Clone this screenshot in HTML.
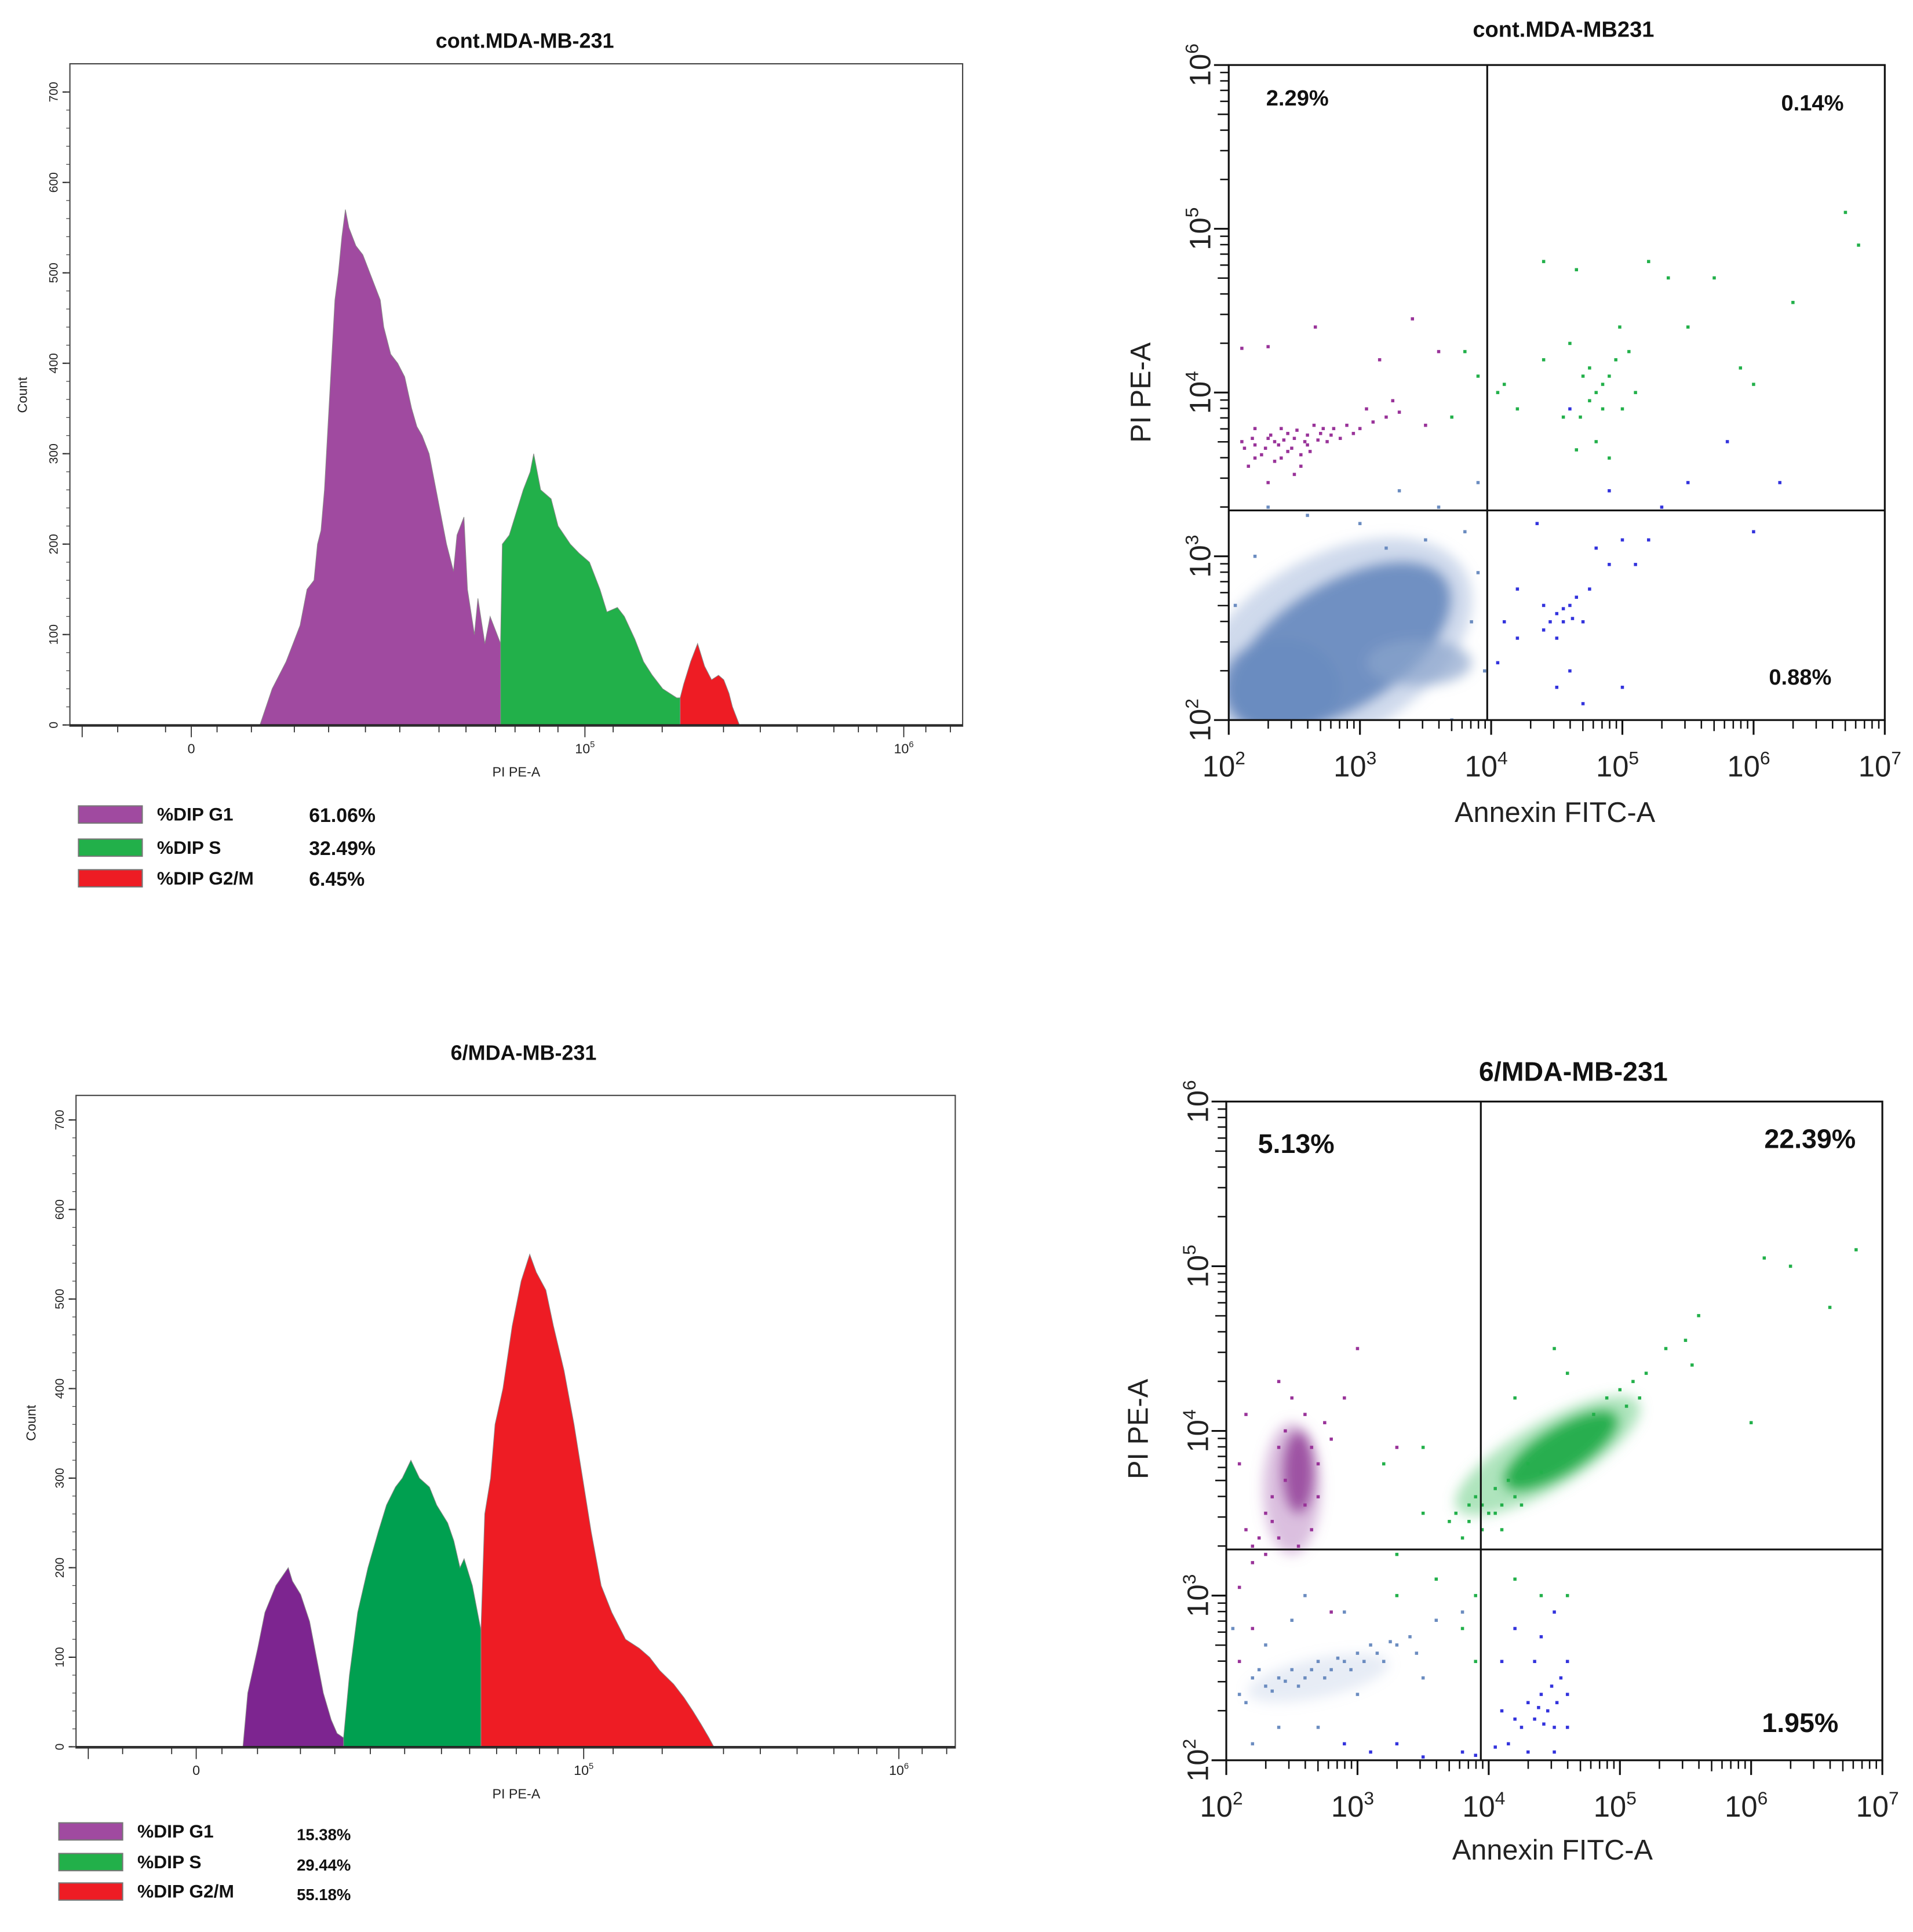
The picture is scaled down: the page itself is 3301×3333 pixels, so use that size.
<!DOCTYPE html>
<html><head><meta charset="utf-8"><style>
html,body{margin:0;padding:0;background:#fff}
svg{display:block}
text{font-family:"Liberation Sans",sans-serif}
.b{font-weight:bold}
</style></head><body>
<svg id="fig" width="3301" height="3333" viewBox="0 0 1560 1575" preserveAspectRatio="none" xmlns="http://www.w3.org/2000/svg">
<defs><filter id="soft" x="-30%" y="-30%" width="160%" height="160%"><feGaussianBlur stdDeviation="5"/></filter></defs>
</svg>
<script>
// ---------- Histogram data (channel 0..256 across box, count) ----------
const topChan = [54.5,58,62,64,66,68,70,71,72,73,74,75,76,77,78,79,80,81,82,84,85,87,89,90,92,94,96,98,99.5,101,103,105,106.5,108,110,111,113,114,116,117,119,120.5,123,123.5];
const topCount= [0,40,70,90,110,150,160,200,215,260,330,400,470,500,540,570,550,540,530,520,510,490,470,440,410,400,385,350,330,320,300,260,230,200,170,210,230,150,100,140,90,120,95,90];
const topSChan = [123.5,124,126,128,130,132,133,135,138,140,143.5,146,149,152,154,157,159,162,164.5,167,170,172,174,175];
const topSCount= [90,200,210,235,260,280,300,260,250,220,200,190,180,150,125,130,120,95,70,55,40,35,30,30];
const topMChan = [175,176,178,180,182,184,186,187.5,189,190,191,192];
const topMCount= [30,45,70,90,65,50,55,50,35,20,10,0];

const botGChan = [48.6,50,52.9,55,58.2,60,61.8,63,65.4,68,70,72,74.3,76,77.9];
const botGCount= [0,60,110,150,180,190,200,185,170,140,100,60,30,15,10];
const botSChan = [77.9,79.6,82,85,88,90.4,93,95,97.5,100,102.9,105,108.2,110,111.8,113,115.4,117.9];
const botSCount= [10,80,150,200,240,270,290,300,320,300,290,270,250,230,200,210,180,130];
const botMChan = [117.9,119,120.7,122,124.3,127,129.6,132.1,134,136.8,139,142.1,145,147.5,150,152.9,156,160,164,167,170,174,177,179.6,182,184.3,185.7];
const botMCount= [130,260,300,360,400,470,520,550,530,510,470,420,360,300,240,180,150,120,110,100,85,70,55,40,25,10,0];

const yTicks = [0,100,200,300,400,500,600,700];

// ---------- Scatter data (log10 units) ----------
const topBlobs = [ // [cx, cy, rxDec, ryDec, angleDeg, color, opacity]
 [2.8,2.45,1.15,0.55,-30,'#a7bcdc',0.55],
 [2.85,2.45,0.95,0.38,-32,'#6b8cc0',0.95],
 [2.4,2.2,0.45,0.3,0,'#6b8cc0',0.9],
 [3.45,2.35,0.4,0.14,0,'#8aa4cc',0.7]
];
const topPurple=[[2.1,3.7],[2.2,3.68],[2.3,3.72],[2.35,3.7],[2.45,3.75],[2.5,3.72],[2.6,3.74],[2.7,3.75],[2.75,3.7],[2.8,3.78],[2.9,3.8],[3.0,3.78],[3.1,3.82],[3.2,3.85],[3.3,3.88],[2.25,3.62],[2.4,3.6],[2.55,3.55],[2.2,3.78],[2.65,3.8],[3.05,3.9],[3.15,4.2],[2.1,4.27],[2.3,4.28],[2.66,4.4],[3.4,4.45],[3.6,4.25],[3.5,3.8],[2.5,3.5],[2.3,3.45],[2.15,3.55],[2.6,3.68],[2.85,3.72],[3.25,3.95],[2.12,3.66],[2.18,3.72],[2.28,3.66],[2.32,3.74],[2.38,3.68],[2.42,3.71],[2.48,3.66],[2.52,3.77],[2.58,3.7],[2.62,3.64],[2.68,3.71],[2.72,3.78],[2.78,3.74],[2.2,3.6],[2.35,3.58],[2.45,3.64],[2.55,3.62],[2.4,3.78],[2.95,3.75]];
const topGreen=[[4.05,4.0],[4.1,4.05],[4.2,3.9],[4.4,4.2],[4.55,3.85],[4.6,4.3],[4.7,4.1],[4.75,3.95],[4.8,3.7],[4.85,4.05],[4.9,4.1],[4.95,4.2],[5.0,3.9],[5.05,4.25],[5.1,4.0],[4.9,3.6],[4.65,3.65],[4.98,4.4],[5.2,4.8],[5.35,4.7],[4.4,4.8],[4.65,4.75],[5.7,4.7],[6.3,4.55],[6.8,4.9],[5.9,4.15],[6.0,4.05],[3.9,4.1],[3.8,4.25],[3.7,3.85],[5.5,4.4],[6.7,5.1],[4.8,4.0],[4.85,3.9],[4.75,4.15],[4.68,3.85]];
const topBlue=[[4.2,2.8],[4.4,2.7],[4.5,2.65],[4.55,2.6],[4.6,2.7],[4.65,2.75],[4.7,2.6],[4.75,2.8],[4.4,2.55],[4.5,2.5],[4.9,2.95],[5.0,3.1],[5.1,2.95],[5.2,3.1],[4.2,2.5],[4.5,2.2],[4.6,2.3],[5.0,2.2],[4.7,2.1],[4.1,2.6],[4.35,3.2],[4.8,3.05],[5.3,3.3],[5.5,3.45],[5.8,3.7],[6.2,3.45],[6.0,3.15],[4.9,3.4],[4.6,3.9],[4.05,2.35],[4.45,2.6],[4.55,2.68],[4.62,2.62]];
const topLight=[[2.3,3.3],[2.6,3.25],[3.0,3.2],[3.3,3.4],[3.6,3.3],[3.8,3.15],[3.9,2.9],[3.85,2.6],[3.95,2.3],[3.7,2.0],[3.2,3.05],[2.2,3.0],[2.05,2.7],[3.5,3.1],[3.9,3.45]];

const botBlobs = [
 [4.45,3.85,0.8,0.2,-30,'#5ec97a',0.5],
 [4.55,3.88,0.5,0.14,-32,'#17a844',0.9],
 [2.5,3.65,0.22,0.4,0,'#b070b8',0.45],
 [2.55,3.75,0.12,0.25,0,'#8f3a95',0.8],
 [2.7,2.5,0.55,0.12,-12,'#9fb4d8',0.25]
];
const botPurple=[[2.15,3.4],[2.2,3.3],[2.3,3.5],[2.35,3.6],[2.4,3.9],[2.45,4.0],[2.6,3.55],[2.65,3.4],[2.7,3.8],[2.75,4.05],[2.8,3.95],[2.2,3.2],[2.1,3.05],[2.3,3.25],[2.5,4.2],[2.6,4.1],[2.15,4.1],[2.4,4.3],[2.1,3.8],[2.9,4.2],[3.3,3.9],[3.0,4.5],[2.8,2.9],[2.2,2.8],[2.1,2.6],[2.25,3.35],[2.35,3.45],[2.45,3.7],[2.65,3.9],[2.7,3.6],[2.4,3.35],[2.55,3.3]];
const botGreen=[[3.3,3.25],[3.5,3.5],[3.7,3.45],[3.8,3.35],[3.85,3.55],[3.9,3.6],[3.95,3.4],[4.0,3.5],[4.05,3.65],[4.1,3.55],[4.15,3.7],[4.2,3.6],[4.3,3.8],[4.4,3.75],[4.8,4.1],[4.9,4.2],[5.0,4.25],[5.1,4.3],[5.15,4.2],[4.6,4.35],[4.2,4.2],[4.5,4.5],[5.35,4.5],[5.5,4.55],[5.55,4.4],[6.0,4.05],[6.3,5.0],[6.1,5.05],[6.6,4.75],[6.8,5.1],[5.6,4.7],[3.6,3.1],[3.3,3.0],[3.9,3.0],[3.8,2.8],[3.9,2.6],[4.2,3.1],[4.4,3.0],[4.6,3.0],[3.2,3.8],[3.5,3.9],[3.85,3.45],[3.95,3.55],[4.05,3.5],[4.1,3.4],[3.75,3.5],[4.25,3.55],[5.2,4.35],[5.05,4.15]];
const botBlue=[[4.1,2.3],[4.15,2.1],[4.25,2.2],[4.3,2.35],[4.35,2.25],[4.4,2.4],[4.45,2.3],[4.5,2.2],[4.55,2.5],[4.6,2.4],[4.35,2.6],[4.4,2.75],[4.2,2.8],[4.5,2.9],[4.6,2.6],[4.3,2.05],[4.5,2.05],[4.1,2.6],[4.6,2.2],[3.8,2.05],[3.3,2.1],[3.1,2.05],[2.9,2.1],[3.5,2.02],[4.05,2.08],[3.9,2.03],[4.38,2.32],[4.42,2.22],[4.52,2.35],[4.48,2.45],[4.2,2.25]];
const botLight=[[2.1,2.4],[2.2,2.5],[2.3,2.45],[2.4,2.5],[2.5,2.55],[2.6,2.5],[2.7,2.6],[2.8,2.55],[2.9,2.6],[3.0,2.65],[3.1,2.7],[3.2,2.6],[3.3,2.7],[3.4,2.75],[2.5,2.85],[2.6,3.0],[2.9,2.9],[3.6,2.85],[3.8,2.9],[2.2,2.1],[2.4,2.2],[2.7,2.2],[3.0,2.4],[3.5,2.5],[2.05,2.8],[2.3,2.7],[2.35,2.42],[2.45,2.48],[2.55,2.45],[2.65,2.55],[2.75,2.5],[2.85,2.62],[2.95,2.55],[3.05,2.6],[3.15,2.65],[2.15,2.35],[2.25,2.55],[3.25,2.72],[3.45,2.65]];
const xDecades=[2,3,4,5,6,7];
const yDecades=[2,3,4,5,6];

// ---------- drawing ----------
const NS='http://www.w3.org/2000/svg';
const svg=document.getElementById('fig');
function mk(tag,attrs,parent){const e=document.createElementNS(NS,tag);for(const k in attrs)e.setAttribute(k,attrs[k]);(parent||svg).appendChild(e);return e;}
function txt(s,x,y,size,opts,parent){const t=mk('text',Object.assign({x:x,y:y,'font-size':size,'text-anchor':'middle',fill:'#111'},opts||{}),parent);t.textContent=s;return t;}

function histogram(cfg){
  const g=mk('g',{});
  
  
  const L=cfg.box[0],T=cfg.box[1],R=cfg.box[2],B=cfg.box[3];
  const base=cfg.base, perCount=(base-cfg.y700)/700;
  const xs=c=>L+c*(R-L)/256, ys=v=>base-v*perCount;
  const tt=txt(cfg.title,cfg.titleX,cfg.titleY,17,{class:'b'},g);
  
  
  cfg.series.forEach(s=>{
    let d='M'+xs(s.c[0])+','+base;
    s.c.forEach((c,i)=>{d+=' L'+xs(c)+','+ys(s.v[i]);});
    d+=' L'+xs(s.c[s.c.length-1])+','+base+' Z';
    const p=mk('path',{d:d,fill:s.color,stroke:'#888','stroke-width':0.5},g);
    
    
  });
  const box=mk('rect',{x:L,y:T,width:R-L,height:B-T,fill:'none',stroke:'#444','stroke-width':1},g);
  
  
  mk('line',{x1:L,y1:base,x2:R,y2:base,stroke:'#222','stroke-width':1.2},g);
  yTicks.forEach(v=>{
    mk('line',{x1:L-6,y1:ys(v),x2:L,y2:ys(v),stroke:'#222'},g);
    const t=txt(String(v),L-14,ys(v)+4,10,{transform:'rotate(-90 '+(L-14)+' '+ys(v)+')',fill:'#222'},g);
    
    
  });
  for(let v=0;v<=700;v+=20){mk('line',{x1:L-3,y1:ys(v),x2:L,y2:ys(v),stroke:'#444','stroke-width':0.6},g);}
  const cl=txt('Count',cfg.countX,cfg.countY,11,{transform:'rotate(-90 '+cfg.countX+' '+cfg.countY+')',fill:'#222'},g);
  
  
  cfg.xTickPx.forEach(x=>mk('line',{x1:x,y1:B,x2:x,y2:B+(cfg.xTickMajor.includes(x)?9:5),stroke:'#222','stroke-width':0.8},g));
  cfg.xLabels.forEach(l=>{
    const t=txt(l[0],l[1],B+22,11,{fill:'#222'},g);
    if(l[2]){const s=mk('tspan',{'font-size':7,dy:-5},t);s.textContent=l[2];}
    
    
  });
  const xl=txt('PI PE-A',cfg.xTitleX,cfg.xTitleY,11,{fill:'#222'},g);
  
  
  cfg.legend.forEach((e,i)=>{
    const y=cfg.legY[i];
    const r=mk('rect',{x:cfg.legX,y:y,width:52,height:14,fill:e[2],stroke:'#777','stroke-width':1},g);
    
    
    const t1=txt(e[0],cfg.legX+64,y+12,15,{'text-anchor':'start',class:'b'},g);
    
    
    const t2=txt(e[1],cfg.valX,y+12+cfg.valDy,cfg.valSize,{'text-anchor':'start',class:'b'},g);
    
    
  });
}

function scatter(cfg){
  const g=mk('g',{});
  
  
  const L=cfg.box[0],T=cfg.box[1],R=cfg.box[2],B=cfg.box[3];
  const dx=(R-L)/5, dy=(B-T)/4;
  const xs=v=>L+(v-2)*dx, ys=v=>B-(v-2)*dy;
  const tt=txt(cfg.title,cfg.titleX,cfg.titleY,cfg.titleSize,{class:'b'},g);
  
  
  const clip='clip'+cfg.name;
  const cp=mk('clipPath',{id:clip},g);mk('rect',{x:L,y:T,width:R-L,height:B-T},cp);
  const pg=mk('g',{'clip-path':'url(#'+clip+')'},g);
  const bg=mk('g',{filter:'url(#soft)'},pg);
  cfg.blobs.forEach(b=>{
    const cx=xs(b[0]),cy=ys(b[1]);
    const e=mk('ellipse',{cx:cx,cy:cy,rx:b[2]*dx,ry:b[3]*dy,fill:b[5],opacity:b[6],transform:'rotate('+b[4]+' '+cx+' '+cy+')'},bg);
    
    
  });
  cfg.groups.forEach(gr=>{
    gr.pts.forEach(p=>{
      const c=mk('rect',{x:xs(p[0])-1.3,y:ys(p[1])-1.3,width:2.6,height:2.6,fill:gr.color},pg);
      
      
    });
  });
  const box=mk('rect',{x:L,y:T,width:R-L,height:B-T,fill:'none',stroke:'#111','stroke-width':1.5},g);
  
  
  const vq=mk('line',{x1:xs(cfg.qx),y1:T,x2:xs(cfg.qx),y2:B,stroke:'#111','stroke-width':1.5},g);
  
  
  const hq=mk('line',{x1:L,y1:ys(cfg.qy),x2:R,y2:ys(cfg.qy),stroke:'#111','stroke-width':1.5},g);
  
  
  xDecades.forEach((d,i)=>{
    mk('line',{x1:xs(d),y1:B,x2:xs(d),y2:B+12,stroke:'#111','stroke-width':1.5},g);
    if(i<5)for(let m=2;m<=9;m++){const x=xs(d+Math.log10(m));mk('line',{x1:x,y1:B,x2:x,y2:B+(m==5?9:7),stroke:'#111','stroke-width':1.2},g);}
    const t=txt('10',xs(d)-4,B+46,24,{fill:'#222'},g);
    const s=mk('tspan',{'font-size':15,dy:-10},t);s.textContent=String(d);
    
    
  });
  yDecades.forEach((d,i)=>{
    mk('line',{x1:L-12,y1:ys(d),x2:L,y2:ys(d),stroke:'#111','stroke-width':1.5},g);
    if(i<4)for(let m=2;m<=9;m++){const y=ys(d+Math.log10(m));mk('line',{x1:L-(m==5?9:7),y1:y,x2:L,y2:y,stroke:'#111','stroke-width':1.2},g);}
    const lx=L-24,ly=ys(d);
    const t=txt('10',lx,ly+9,24,{fill:'#222',transform:'rotate(-90 '+lx+' '+ly+')'},g);
    const s=mk('tspan',{'font-size':15,dy:-10},t);s.textContent=String(d);
    
    
  });
  const xt=txt('Annexin FITC-A',cfg.xTitleX,cfg.xTitleY,23,{fill:'#222'},g);
  
  
  const yt=txt('PI PE-A',cfg.yTitleX,cfg.yTitleY,23,{fill:'#222',transform:'rotate(-90 '+cfg.yTitleX+' '+cfg.yTitleY+')'},g);
  
  
  cfg.quads.forEach(q=>{
    const t=txt(q[0],q[1],q[2],cfg.qSize,{class:'b'},g);
    
    
  });
}

const topXT=[67,96,135,156,177,205,240,268,298,326,358,380,404,420,440,455,477,500,540,590,620,650,680,700,715,737,755,775];
histogram({name:'histogram-control',title:'cont.MDA-MB-231',titleX:428,titleY:39,box:[57,52,785,592],base:591,y700:75,
  countX:22,countY:322,
  series:[{name:'g1-peak',c:topChan,v:topCount,color:'#a04aa0'},{name:'s-phase',c:topSChan,v:topSCount,color:'#22b04a'},{name:'g2m-peak',c:topMChan,v:topMCount,color:'#ee1c24'}],
  xTickPx:topXT,xTickMajor:[67,156,477,737],xLabels:[['0',156],['10',477,'5'],['10',737,'6']],xTitleX:421,xTitleY:633,
  legX:64,legY:[657,684,709],valX:252,valSize:16,valDy:1,
  legend:[['%DIP G1','61.06%','#a04aa0'],['%DIP S','32.49%','#22b04a'],['%DIP G2/M','6.45%','#ee1c24']]});
const botXT=[72,100,140,160,181,210,245,273,302,330,360,383,405,421,440,455,476,500,540,590,620,650,680,700,715,733,752,772];
histogram({name:'histogram-treated',title:'6/MDA-MB-231',titleX:427,titleY:864,box:[62,893,779,1425],base:1424,y700:913,
  countX:29,countY:1160,
  series:[{name:'g1-peak',c:botGChan,v:botGCount,color:'#7d2590'},{name:'s-phase',c:botSChan,v:botSCount,color:'#00a050'},{name:'g2m-peak',c:botMChan,v:botMCount,color:'#ee1c24'}],
  xTickPx:botXT,xTickMajor:[72,160,476,733],xLabels:[['0',160],['10',476,'5'],['10',733,'6']],xTitleX:421,xTitleY:1466,
  legX:48,legY:[1486,1511,1535],valX:242,valSize:13,valDy:2,
  legend:[['%DIP G1','15.38%','#a04aa0'],['%DIP S','29.44%','#22b04a'],['%DIP G2/M','55.18%','#ee1c24']]});

scatter({name:'scatter-control',title:'cont.MDA-MB231',titleX:1275,titleY:30,titleSize:18,box:[1002,53,1537,587],qx:3.97,qy:3.28,
  blobs:topBlobs,groups:[{name:'point-live',pts:topLight,color:'#6b8cc0'},{name:'point-late-necrotic',pts:topPurple,color:'#993399'},{name:'point-late-apoptotic',pts:topGreen,color:'#22b04a'},{name:'point-early-apoptotic',pts:topBlue,color:'#3333dd'}],
  xTitleX:1268,xTitleY:670,yTitleX:938,yTitleY:320,qSize:18,
  quads:[['2.29%',1058,86],['0.14%',1478,90],['0.88%',1468,558]]});
scatter({name:'scatter-treated',title:'6/MDA-MB-231',titleX:1283,titleY:881,titleSize:22,box:[1000,898,1535,1435],qx:3.94,qy:3.28,
  blobs:botBlobs,groups:[{name:'point-necrotic',pts:botPurple,color:'#993399'},{name:'point-late-apoptotic',pts:botGreen,color:'#22b04a'},{name:'point-early-apoptotic',pts:botBlue,color:'#3333dd'},{name:'point-live',pts:botLight,color:'#6b8cc0'}],
  xTitleX:1266,xTitleY:1516,yTitleX:936,yTitleY:1165,qSize:22,
  quads:[['5.13%',1057,940],['22.39%',1476,936],['1.95%',1468,1412]]});
</script>
</body></html>
